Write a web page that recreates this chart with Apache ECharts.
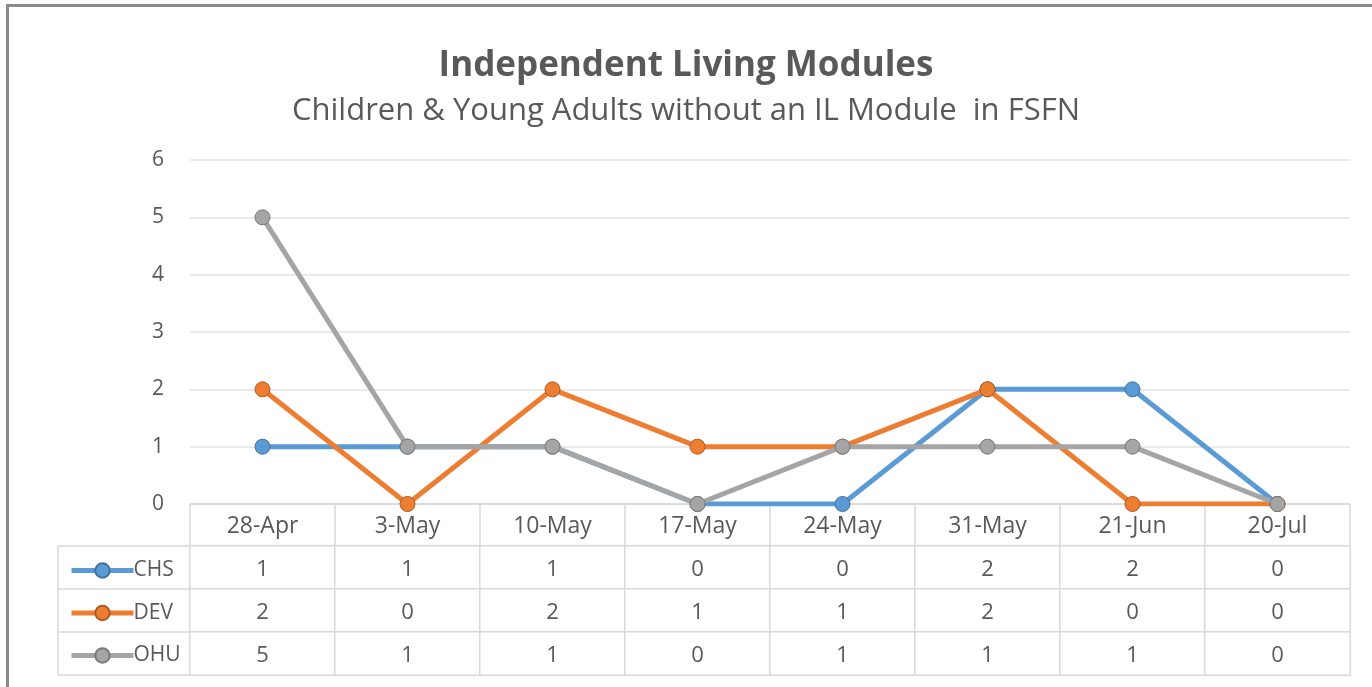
<!DOCTYPE html>
<html>
<head>
<meta charset="utf-8">
<script src="https://cdn.jsdelivr.net/npm/echarts@6/dist/echarts.min.js"></script>
<style>
  html,body{margin:0;padding:0;background:#fff;}
  #main{width:1372px;height:687px;}
</style>
</head>
<body>
<div id="main"></div>
<script>
// ---- data ----
const dates = ['28-Apr','3-May','10-May','17-May','24-May','31-May','21-Jun','20-Jul'];
const names = ['CHS','DEV','OHU'];
const chs = [1,1,1,0,0,2,2,0];
const dev = [2,0,2,1,1,2,0,0];
const ohu = [5,1,1,0,1,1,1,0];
const yTicks = [0,1,2,3,4,5,6];

const C = { blue:'#5b9bd5', orange:'#ed7d31', gray:'#a5a5a5', txt:'#595959', grid:'#d9d9d9' };
const FONT = 'Open Sans';
const rows = [chs, dev, ohu];
const colors = [C.blue, C.orange, C.gray];
const borders = ['#41719c', '#ae5a21', '#787878'];

// table cells for the heatmap: [x, y, value]
const cells = [];
rows.forEach((r, yi) => r.forEach((v, xi) => cells.push([xi, yi, v])));

function line(i){
  return {
    name: names[i], type:'line', data: rows[i], xAxisIndex:0, yAxisIndex:0,
    symbol:'circle', symbolSize:15, showSymbol:true,
    lineStyle:{ width:5, color:colors[i] },
    itemStyle:{ color:colors[i], borderColor:borders[i], borderWidth:1 },
    z: 3 + i
  };
}

const chart = echarts.init(document.getElementById('main'));
chart.setOption({
  animation:false,
  textStyle:{ fontFamily:FONT },
  title:{
    text:'Independent Living Modules',
    subtext:'Children & Young Adults without an IL Module  in FSFN',
    left:'center', top:44, itemGap:12,
    textStyle:{ fontFamily:FONT, fontSize:35, fontWeight:'bold', color:C.txt },
    subtextStyle:{ fontFamily:FONT, fontSize:31, color:C.txt }
  },
  legend:{
    data:names, orient:'vertical', left:64, top:555, height:130, itemGap:21.5,
    itemWidth:62, itemHeight:18, selectedMode:false,
    lineStyle:{ width:5 },
    textStyle:{ fontFamily:FONT, fontSize:21, color:C.txt, padding:[0,0,0,-5] }
  },
  grid:[
    { left:190, right:22, top:160, bottom:183 },
    { left:190, right:22, top:546, height:129 }
  ],
  xAxis:[
    { gridIndex:0, type:'category', data:dates, boundaryGap:true,
      axisLine:{ lineStyle:{ color:C.grid, width:1.5 } },
      axisTick:{ show:true, length:42, interval:0, lineStyle:{ color:C.grid, width:1.5 } },
      axisLabel:{ color:C.txt, fontSize:23, margin:11, interval:0 } },
    { gridIndex:1, type:'category', data:dates, boundaryGap:true,
      axisLine:{ show:false }, axisTick:{ show:false }, axisLabel:{ show:false } }
  ],
  yAxis:[
    { gridIndex:0, type:'value', min:0, max:6, interval:1,
      axisLine:{ show:false }, axisTick:{ show:false },
      axisLabel:{ color:C.txt, fontSize:21, margin:26,
        formatter:v => yTicks.includes(v) ? String(v) : '' },
      splitLine:{ lineStyle:{ color:'#e3e3e3', width:1.5 } } },
    { gridIndex:1, type:'category', data:names, inverse:true,
      axisLine:{ show:true, lineStyle:{ color:C.grid, width:1.5 } },
      axisTick:{ show:true, length:132, interval:0, lineStyle:{ color:C.grid, width:1.5 } },
      axisLabel:{ show:false } }
  ],
  graphic:[
    // outer frame of the picture
    { type:'rect', shape:{ x:7.5, y:5.5, width:1400, height:700 },
      style:{ fill:'none', stroke:'#8a8a8a', lineWidth:3 }, z:10 },
    // left edge of the legend column
    { type:'line', shape:{ x1:58, y1:546, x2:58, y2:675 },
      style:{ stroke:C.grid, lineWidth:1.5 } }
  ],
  series:[
    line(0), line(1), line(2),
    { type:'heatmap', xAxisIndex:1, yAxisIndex:1, data:cells,
      itemStyle:{ color:'#fff', borderColor:C.grid, borderWidth:1.5 },
      label:{ show:true, color:C.txt, fontSize:22, fontFamily:FONT, offset:[0,2],
        formatter:p => String(p.value[2]) },
      emphasis:{ disabled:true } }
  ]
});
</script>
</body>
</html>
